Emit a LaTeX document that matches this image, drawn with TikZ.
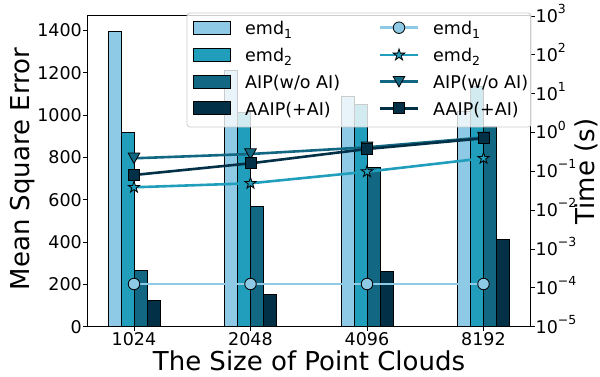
\documentclass[tikz,border=0pt]{standalone}
\usepackage{fontspec}
\setmainfont{DejaVu Sans}
\usetikzlibrary{shapes.geometric}
\definecolor{cA}{HTML}{8ECAE6}
\definecolor{cB}{HTML}{219EBC}
\definecolor{cC}{HTML}{126782}
\definecolor{cD}{HTML}{023047}
\newcommand\pwten[1]{10\raisebox{0.5em}{\fontsize{12.5}{12.5}\selectfont #1}}
\newcommand\subone[1]{\raisebox{-0.22em}{\fontsize{12.5}{12.5}\selectfont #1}}
\newcommand\tridn[1]{\draw[mk, fill=cC] (#1) ++(-5.8,-5.2) -- ++(11.6,0) -- ++(-5.8,10.4) -- cycle;}
\begin{document}
\begin{tikzpicture}[x=1pt,y=-1pt,
  bar/.style={draw=black, line width=0.8pt},
  ser/.style={line width=2.6pt},
  mk/.style={draw=black, line width=0.8pt, inner sep=0pt},
  circ/.style={mk, circle, fill=cA, minimum size=11.5pt},
  sq/.style={mk, rectangle, fill=cD, minimum size=11pt},
  st/.style={mk, star, star points=5, star point ratio=2.618, fill=cB, minimum size=12pt},
  tk/.style={line width=0.8pt, draw=black},
  lab/.style={font=\fontsize{17.5}{20}\selectfont, inner sep=0pt},
  axlab/.style={font=\fontsize{26}{30}\selectfont, inner sep=0pt}
]
\useasboundingbox (0,0) rectangle (600,377);
% bars
\foreach \c/\a/\b/\cc/\d in {134/31/132.7/270.7/300.7, 250.5/70/112.3/206/294, 367/96.7/104/167.7/271.7, 483.5/111.7/86/126/239.3} {
  \draw[bar, fill=cA] (\c-26,326.7) rectangle (\c-13,\a);
  \draw[bar, fill=cB] (\c-13,326.7) rectangle (\c,\b);
  \draw[bar, fill=cC] (\c,326.7) rectangle (\c+13,\cc);
  \draw[bar, fill=cD] (\c+13,326.7) rectangle (\c+26,\d);
}
% spines
\draw[line width=1pt] (87.7,16) rectangle (530,326.7);
% ticks and tick labels
\foreach \v in {0,200,...,1400} {
  \draw[tk] (87.7,{326.7-0.2115*\v}) -- (83,{326.7-0.2115*\v});
  \node[lab, anchor=east] (yl\v) at (82,{326.7-0.2115*\v}) {\v};
}
\foreach \k/\s in {-5/−5,-4/−4,-3/−3,-2/−2,-1/−1,0/0,1/1,2/2,3/3} {
  \draw[tk] (530,{326.7-(\k+5)*38.84}) -- (534.7,{326.7-(\k+5)*38.84});
  \node[lab, anchor=base west] (yr\k) at (535.5,{326.7-(\k+5)*38.84+6.4}) {\pwten{\s}};
}
\foreach \c/\t in {134/1024,250.5/2048,367/4096,483.5/8192} {
  \draw[tk] (\c,326.7) -- (\c,331.4);
  \node[lab, anchor=north] (xl\t) at (\c,332.5) {\t};
}
% axis labels
\node[axlab, anchor=base] (xlab) at (309,370) {The Size of Point Clouds};
\node[axlab, rotate=90, anchor=north] (ylab) at (10.5,169) {Mean Square Error};
\node[axlab, rotate=90, anchor=south] (y2lab) at (598,171.5) {Time (s)};
% series coordinates
\coordinate (a1) at (134,284);   \coordinate (a2) at (250.5,284);
\coordinate (a3) at (367,284);   \coordinate (a4) at (483.5,284);
\coordinate (b1) at (134,187.3); \coordinate (b2) at (250.5,183.3);
\coordinate (b3) at (367,171.7); \coordinate (b4) at (483.5,158.3);
\coordinate (c1) at (134,158.3); \coordinate (c2) at (250.5,154);
\coordinate (c3) at (367,147.3); \coordinate (c4) at (483.5,137.5);
\coordinate (d1) at (134,175);   \coordinate (d2) at (250.5,163.3);
\coordinate (d3) at (367,149);   \coordinate (d4) at (483.5,138.3);
% emd1
\draw[ser, cA] (a1) -- (a2) -- (a3) -- (a4);
\foreach \i in {1,...,4} \node[circ] (ma\i) at (a\i) {};
% emd2
\draw[ser, cB] (b1) -- (b2) -- (b3) -- (b4);
\foreach \i in {1,...,4} \node[st] (mb\i) at (b\i) {};
% AIP
\draw[ser, cC] (c1) -- (c2) -- (c3) -- (c4);
\foreach \i in {1,...,4} \tridn{c\i};
% AAIP
\draw[ser, cD] (d1) -- (d2) -- (d3) -- (d4);
\foreach \i in {1,...,4} \node[sq] (md\i) at (d\i) {};
% legend
\draw[draw=black!20, fill=white, fill opacity=0.8, rounded corners=3pt, line width=0.8pt] (187,13) rectangle (531,127);
\foreach \y/\col/\t [count=\i] in {27.7/cA/{emd\subone{1}}, 55/cB/{emd\subone{2}}, 81.7/cC/{AIP(w{/}o AI)}, 108.3/cD/{AAIP(+AI)}} {
  \draw[bar, fill=\col] (193,\y-6.5) rectangle (230,\y+6.5);
  \node[lab, anchor=base west] (lt\i) at (245,\y+6.8) {\t};
  \coordinate (ls\i) at (380,\y);
  \coordinate (le\i) at (418,\y);
  \coordinate (lm\i) at (399,\y);
  \node[lab, anchor=base west] (lu\i) at (433,\y+6.8) {\t};
}
\draw[ser, cA] (ls1) -- (le1); \node[circ] (lk1) at (lm1) {};
\draw[ser, cB] (ls2) -- (le2); \node[st] (lk2) at (lm2) {};
\draw[ser, cC] (ls3) -- (le3); \tridn{lm3};
\draw[ser, cD] (ls4) -- (le4); \node[sq] (lk4) at (lm4) {};
\end{tikzpicture}
\end{document}
